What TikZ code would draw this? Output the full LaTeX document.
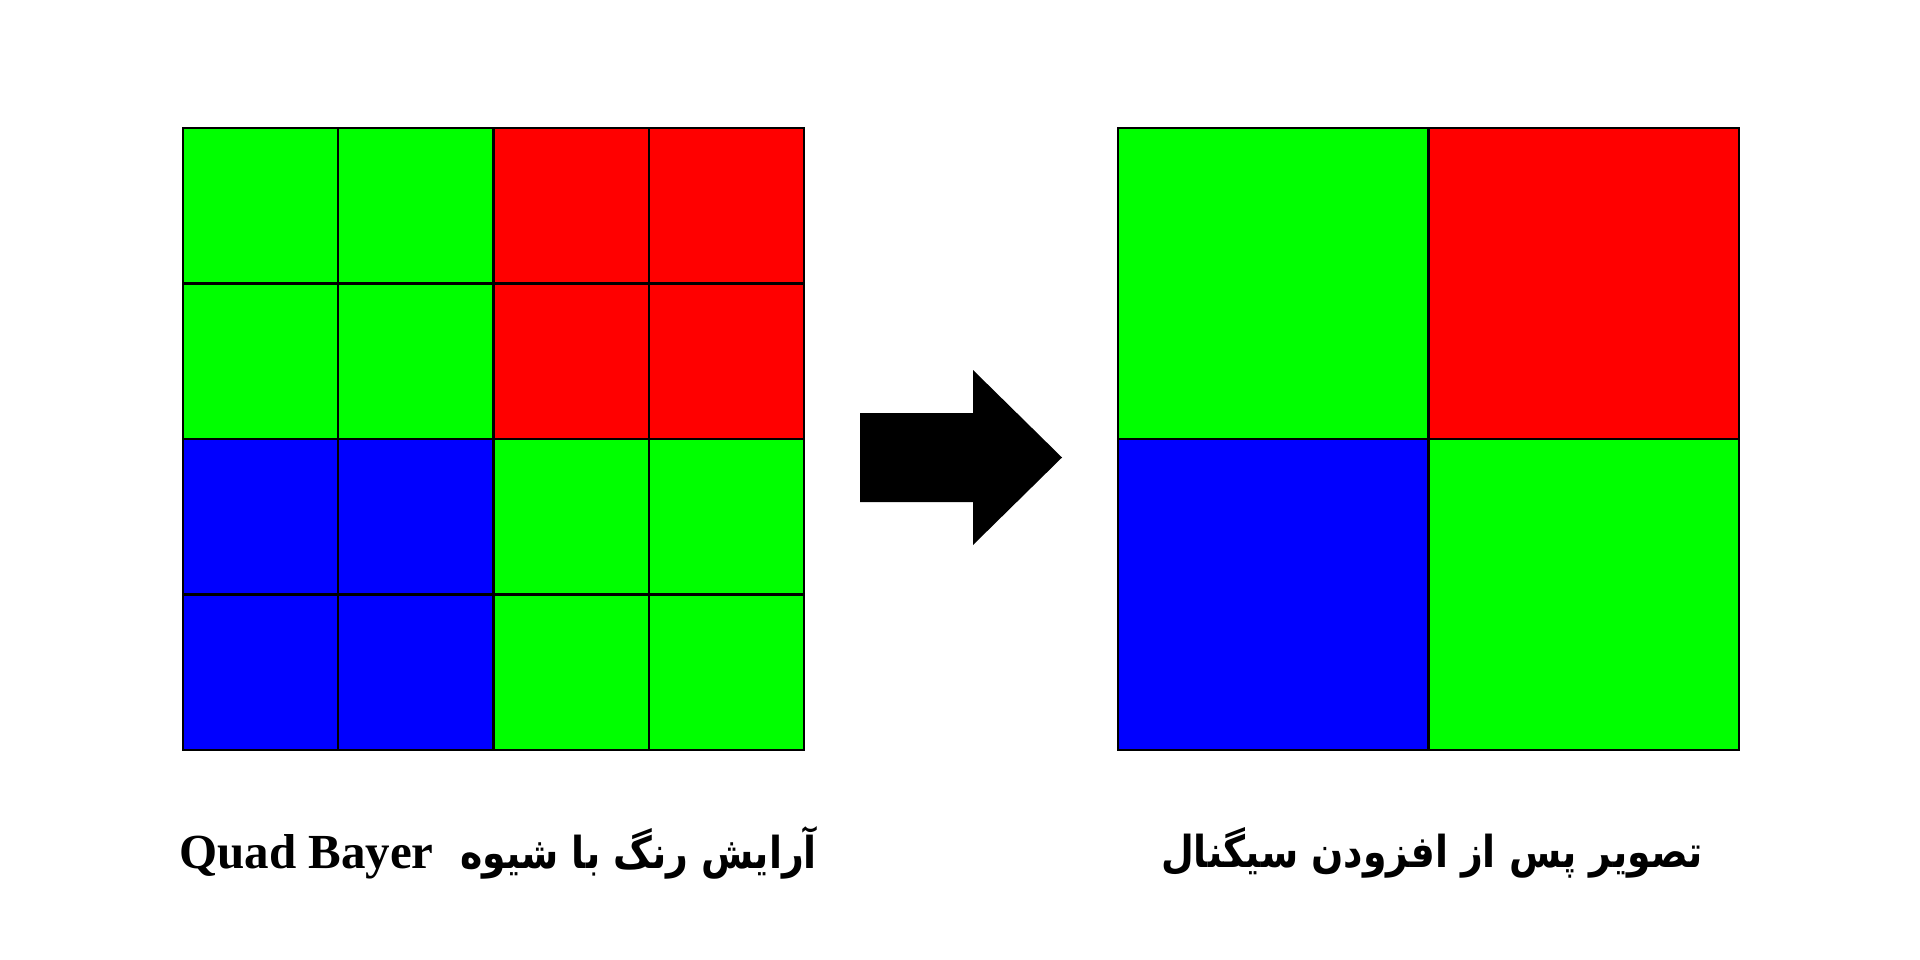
\documentclass[tikz,border=0pt]{standalone}
\usepackage{fontspec}
\TeXXeTstate=1
\newfontfamily\arabicfont[Script=Arabic,FakeStretch=0.86]{DejaVu Sans}
\newfontfamily\latinfont{Liberation Serif}
\definecolor{qgreen}{HTML}{00FF00}
\definecolor{qred}{HTML}{FF0000}
\definecolor{qblue}{HTML}{0000FF}
\tikzset{
  smallcell/.style={draw=black, line width=2.2pt, minimum width=155.25pt, minimum height=155.5pt, inner sep=0pt, outer sep=0pt, anchor=north west},
  bigcell/.style={draw=black, line width=2.2pt, minimum width=310.5pt, minimum height=311pt, inner sep=0pt, outer sep=0pt, anchor=north west},
  label/.style={inner sep=0pt, text=black, font=\fontsize{44}{54}\selectfont}
}
\begin{document}
\begin{tikzpicture}[x=1pt,y=-1pt]
\useasboundingbox (0,0) rectangle (1920,960);
% left Quad Bayer grid
\foreach \r/\c/\col in {0/0/qgreen,0/1/qgreen,0/2/qred,0/3/qred,
                        1/0/qgreen,1/1/qgreen,1/2/qred,1/3/qred,
                        2/0/qblue,2/1/qblue,2/2/qgreen,2/3/qgreen,
                        3/0/qblue,3/1/qblue,3/2/qgreen,3/3/qgreen}
  \node[smallcell, fill=\col] (L\r\c) at ({183+155.25*\c},{128+155.5*\r}) {};
% right binned grid
\foreach \r/\c/\col in {0/0/qgreen,0/1/qred,1/0/qblue,1/1/qgreen}
  \node[bigcell, fill=\col] (R\r\c) at ({1118+310.5*\c},{128+311*\r}) {};
% block arrow
\fill[black] (860,413) -- (973,413) -- (973,370) -- (1062,457.5) -- (973,545) -- (973,502) -- (860,502) -- cycle;
% labels
\node[label] (lab1) at (498,853) {\arabicfont\bfseries\beginR آرایش رنگ با شیوه \ {\fontsize{49}{58}\selectfont\latinfont\bfseries\beginL Quad Bayer\endL}\endR};
\node[label] (lab2) at (1432,853) {\arabicfont\bfseries\beginR تصویر پس از افزودن سیگنال\endR};
\end{tikzpicture}
\end{document}
